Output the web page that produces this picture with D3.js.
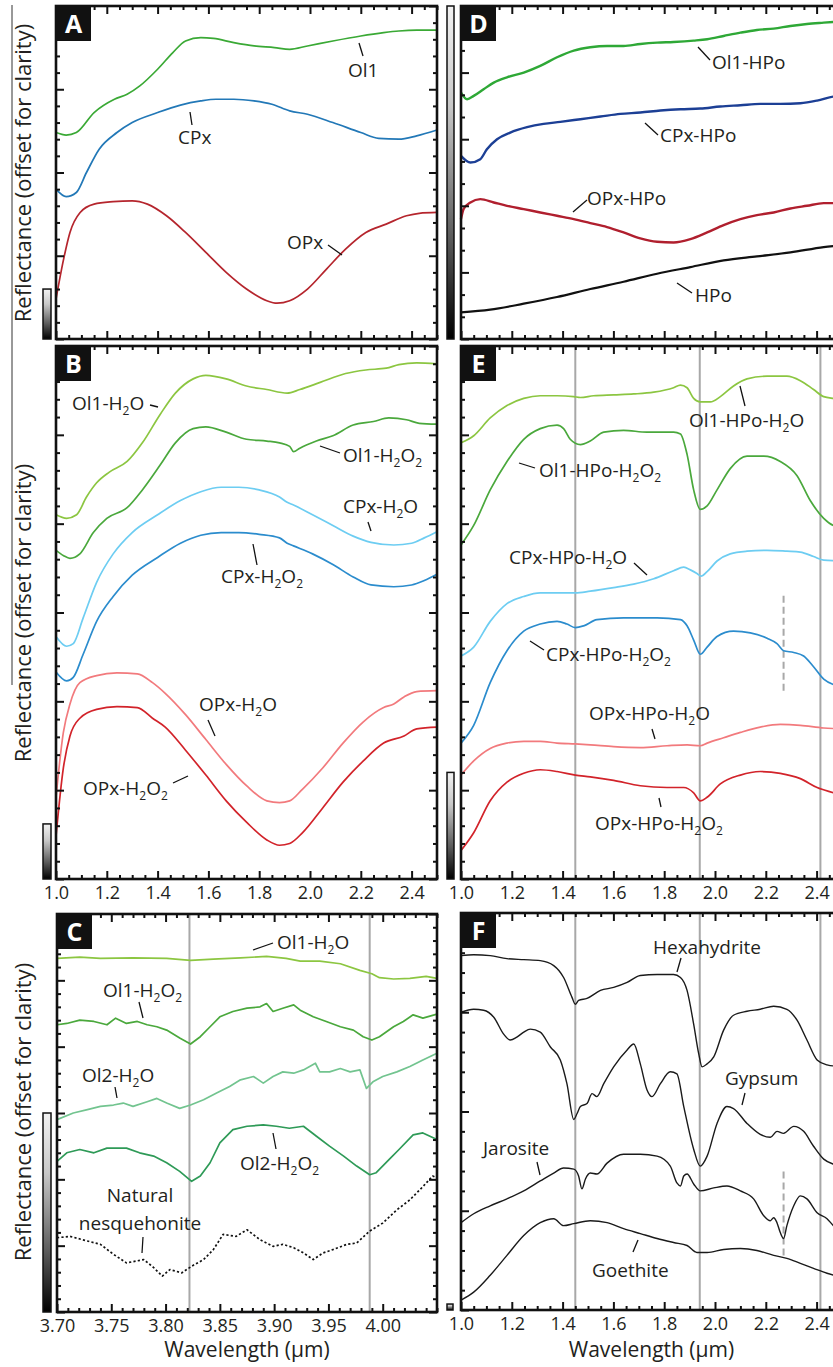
<!DOCTYPE html>
<html><head><meta charset="utf-8">
<script src="https://cdn.jsdelivr.net/npm/d3@7"></script>
<style>body{margin:0;background:#fff} svg text{font-family:'Open Sans',sans-serif;fill:#231f20}</style>
</head><body><svg id="c" width="833" height="1367"></svg>
<script>
// ---------------- tick values / labels ----------------
const nirTicks = [1.0, 1.2, 1.4, 1.6, 1.8, 2.0, 2.2, 2.4];
const nirTickLabels = ["1.0", "1.2", "1.4", "1.6", "1.8", "2.0", "2.2", "2.4"];
const lwTicks = [3.70, 3.75, 3.80, 3.85, 3.90, 3.95, 4.00];
const lwTickLabels = ["3.70", "3.75", "3.80", "3.85", "3.90", "3.95", "4.00"];
const bandsNIR = [1.45, 1.94, 2.415];
const bandsLW = [3.822, 3.988];
const dashedBand = 2.27;

// ---------------- Panel A ----------------
const A_Ol1 = [[1.00,0.248],[1.04,0.245],[1.08,0.248],[1.15,0.272],[1.23,0.288],[1.28,0.294],[1.33,0.304],[1.40,0.324],[1.46,0.344],[1.51,0.358],[1.57,0.362],[1.62,0.361],[1.70,0.356],[1.78,0.352],[1.86,0.350],[1.92,0.348],[1.99,0.352],[2.09,0.358],[2.20,0.364],[2.29,0.368],[2.35,0.370],[2.42,0.371],[2.50,0.371]];
const A_CPx = [[1.00,0.180],[1.04,0.171],[1.08,0.176],[1.12,0.200],[1.17,0.228],[1.24,0.248],[1.30,0.260],[1.40,0.272],[1.49,0.281],[1.57,0.286],[1.63,0.288],[1.70,0.288],[1.78,0.286],[1.85,0.282],[1.92,0.274],[1.99,0.270],[2.09,0.260],[2.20,0.248],[2.27,0.241],[2.35,0.240],[2.42,0.244],[2.50,0.251]];
const A_OPx = [[1.00,0.048],[1.03,0.096],[1.055,0.128],[1.095,0.152],[1.15,0.162],[1.225,0.165],[1.30,0.166],[1.36,0.162],[1.435,0.148],[1.51,0.128],[1.59,0.104],[1.67,0.080],[1.75,0.060],[1.83,0.046],[1.87,0.043],[1.92,0.046],[1.99,0.060],[2.065,0.084],[2.14,0.108],[2.22,0.128],[2.30,0.138],[2.38,0.148],[2.43,0.151],[2.50,0.152]];

// ---------------- Panel B ----------------
const B_Ol1_H2O = [[1.00,0.410],[1.042,0.406],[1.081,0.410],[1.12,0.430],[1.16,0.446],[1.21,0.458],[1.28,0.470],[1.34,0.491],[1.41,0.523],[1.47,0.547],[1.54,0.563],[1.59,0.567],[1.67,0.563],[1.75,0.555],[1.83,0.551],[1.91,0.547],[1.96,0.551],[2.04,0.559],[2.14,0.569],[2.22,0.573],[2.30,0.575],[2.35,0.579],[2.42,0.581],[2.50,0.580]];
const B_Ol1_H2O2 = [[1.00,0.370],[1.03,0.364],[1.055,0.361],[1.094,0.366],[1.147,0.390],[1.20,0.406],[1.28,0.418],[1.34,0.438],[1.41,0.466],[1.47,0.491],[1.54,0.507],[1.59,0.509],[1.67,0.503],[1.75,0.495],[1.83,0.493],[1.88,0.491],[1.92,0.487],[1.935,0.481],[1.96,0.485],[2.025,0.493],[2.09,0.499],[2.17,0.511],[2.25,0.515],[2.31,0.519],[2.38,0.517],[2.43,0.513],[2.50,0.512]];
const B_CPx_H2O = [[1.00,0.273],[1.042,0.262],[1.068,0.265],[1.107,0.294],[1.16,0.334],[1.225,0.366],[1.30,0.390],[1.40,0.410],[1.49,0.426],[1.57,0.436],[1.65,0.441],[1.72,0.441],[1.80,0.438],[1.88,0.430],[1.91,0.424],[1.935,0.421],[2.01,0.410],[2.09,0.398],[2.17,0.386],[2.24,0.379],[2.33,0.376],[2.40,0.378],[2.45,0.384],[2.50,0.391]];
const B_CPx_H2O2 = [[1.00,0.233],[1.042,0.223],[1.068,0.227],[1.107,0.253],[1.16,0.290],[1.225,0.318],[1.30,0.342],[1.40,0.362],[1.49,0.378],[1.57,0.387],[1.65,0.390],[1.72,0.390],[1.80,0.388],[1.88,0.384],[1.91,0.378],[1.935,0.375],[2.01,0.366],[2.09,0.354],[2.17,0.340],[2.24,0.331],[2.33,0.329],[2.40,0.331],[2.45,0.336],[2.50,0.343]];
const B_OPx_H2O = [[1.00,0.092],[1.029,0.165],[1.055,0.197],[1.094,0.221],[1.16,0.229],[1.24,0.232],[1.32,0.231],[1.38,0.221],[1.43,0.209],[1.51,0.185],[1.59,0.157],[1.67,0.129],[1.75,0.105],[1.83,0.088],[1.88,0.086],[1.92,0.088],[1.97,0.101],[2.05,0.125],[2.13,0.153],[2.21,0.177],[2.29,0.193],[2.33,0.197],[2.37,0.205],[2.42,0.211],[2.50,0.212]];
const B_OPx_H2O2 = [[1.00,0.048],[1.029,0.125],[1.055,0.161],[1.094,0.181],[1.16,0.191],[1.24,0.194],[1.32,0.193],[1.38,0.181],[1.43,0.171],[1.51,0.145],[1.59,0.117],[1.67,0.088],[1.75,0.064],[1.83,0.044],[1.88,0.038],[1.92,0.040],[1.97,0.052],[2.05,0.080],[2.13,0.109],[2.21,0.133],[2.29,0.153],[2.37,0.161],[2.42,0.169],[2.50,0.171]];

// ---------------- Panel C ----------------
const C_Ol1_H2O = [[3.700,0.533],[3.721,0.535],[3.740,0.533],[3.770,0.534],[3.801,0.533],[3.823,0.530],[3.844,0.532],[3.869,0.534],[3.893,0.536],[3.911,0.533],[3.924,0.529],[3.942,0.529],[3.961,0.525],[3.979,0.515],[3.990,0.510],[3.997,0.504],[4.010,0.502],[4.025,0.503],[4.040,0.506],[4.050,0.503]];
const C_Ol1_H2O2 = [[3.700,0.433],[3.709,0.435],[3.721,0.440],[3.734,0.438],[3.746,0.433],[3.754,0.443],[3.764,0.435],[3.774,0.438],[3.783,0.433],[3.792,0.430],[3.801,0.425],[3.813,0.413],[3.823,0.404],[3.832,0.415],[3.841,0.430],[3.850,0.445],[3.862,0.453],[3.875,0.458],[3.887,0.460],[3.893,0.465],[3.899,0.453],[3.908,0.458],[3.918,0.463],[3.924,0.455],[3.936,0.445],[3.948,0.438],[3.961,0.430],[3.973,0.425],[3.982,0.415],[3.990,0.410],[3.997,0.415],[4.010,0.430],[4.019,0.438],[4.028,0.448],[4.037,0.443],[4.050,0.449]];
const C_Ol2_H2O = [[3.700,0.290],[3.715,0.300],[3.728,0.305],[3.740,0.310],[3.752,0.312],[3.761,0.315],[3.770,0.310],[3.783,0.317],[3.792,0.322],[3.801,0.315],[3.813,0.307],[3.823,0.312],[3.835,0.320],[3.847,0.330],[3.859,0.340],[3.869,0.350],[3.881,0.355],[3.890,0.345],[3.899,0.355],[3.908,0.362],[3.918,0.360],[3.927,0.365],[3.938,0.375],[3.942,0.362],[3.951,0.362],[3.961,0.367],[3.970,0.362],[3.979,0.365],[3.985,0.337],[3.991,0.347],[4.000,0.355],[4.013,0.362],[4.025,0.370],[4.037,0.380],[4.050,0.390]];
const C_Ol2_H2O2 = [[3.700,0.227],[3.709,0.240],[3.721,0.245],[3.734,0.240],[3.746,0.247],[3.764,0.247],[3.776,0.240],[3.789,0.235],[3.801,0.225],[3.813,0.212],[3.824,0.197],[3.832,0.205],[3.841,0.225],[3.850,0.255],[3.862,0.275],[3.875,0.280],[3.890,0.282],[3.902,0.280],[3.914,0.277],[3.927,0.280],[3.939,0.265],[3.951,0.250],[3.964,0.235],[3.976,0.220],[3.988,0.207],[3.994,0.210],[4.006,0.230],[4.015,0.245],[4.028,0.267],[4.037,0.270],[4.050,0.260]];
const C_Nesq = [[3.700,0.112],[3.712,0.114],[3.728,0.107],[3.740,0.102],[3.752,0.087],[3.764,0.074],[3.780,0.079],[3.789,0.067],[3.797,0.054],[3.804,0.064],[3.815,0.059],[3.824,0.069],[3.835,0.079],[3.844,0.094],[3.853,0.117],[3.865,0.114],[3.875,0.124],[3.887,0.109],[3.899,0.099],[3.908,0.102],[3.918,0.097],[3.927,0.089],[3.936,0.079],[3.945,0.089],[3.954,0.094],[3.967,0.102],[3.976,0.104],[3.988,0.122],[4.000,0.134],[4.013,0.154],[4.025,0.169],[4.037,0.189],[4.046,0.205],[4.050,0.202]];

// ---------------- Panel D ----------------
const D_Ol1_HPo = [[1.000,0.370],[1.024,0.360],[1.050,0.365],[1.089,0.375],[1.129,0.385],[1.181,0.393],[1.247,0.400],[1.312,0.410],[1.378,0.423],[1.444,0.433],[1.509,0.438],[1.575,0.440],[1.640,0.440],[1.706,0.443],[1.772,0.445],[1.837,0.446],[1.916,0.448],[1.969,0.450],[2.034,0.455],[2.100,0.460],[2.165,0.464],[2.231,0.466],[2.297,0.470],[2.362,0.473],[2.428,0.475],[2.500,0.477]];
const D_CPx_HPo = [[1.000,0.275],[1.037,0.265],[1.076,0.270],[1.102,0.285],[1.142,0.300],[1.194,0.310],[1.260,0.318],[1.325,0.323],[1.391,0.326],[1.470,0.330],[1.549,0.334],[1.627,0.338],[1.706,0.340],[1.785,0.343],[1.864,0.345],[1.942,0.346],[2.021,0.349],[2.100,0.351],[2.178,0.353],[2.257,0.353],[2.336,0.354],[2.402,0.358],[2.466,0.364],[2.500,0.366]];
const D_OPx_HPo = [[1.000,0.180],[1.010,0.195],[1.037,0.205],[1.076,0.210],[1.129,0.205],[1.181,0.200],[1.247,0.195],[1.312,0.190],[1.378,0.185],[1.444,0.180],[1.509,0.174],[1.575,0.168],[1.640,0.160],[1.706,0.151],[1.772,0.146],[1.837,0.145],[1.903,0.150],[1.969,0.160],[2.034,0.171],[2.100,0.180],[2.165,0.186],[2.231,0.190],[2.297,0.196],[2.362,0.200],[2.428,0.204],[2.500,0.204]];
const D_HPo = [[1.000,0.040],[1.115,0.044],[1.247,0.053],[1.378,0.063],[1.509,0.075],[1.640,0.086],[1.772,0.098],[1.903,0.108],[2.034,0.118],[2.165,0.124],[2.297,0.130],[2.428,0.138],[2.500,0.141]];

// ---------------- Panel E ----------------
const E_Ol1_H2O = [[1.000,0.491],[1.050,0.499],[1.115,0.519],[1.181,0.533],[1.247,0.541],[1.312,0.544],[1.378,0.544],[1.444,0.543],[1.470,0.542],[1.522,0.544],[1.601,0.545],[1.680,0.546],[1.759,0.548],[1.837,0.553],[1.864,0.556],[1.890,0.553],[1.916,0.541],[1.942,0.537],[1.982,0.537],[2.021,0.543],[2.073,0.555],[2.126,0.563],[2.205,0.566],[2.283,0.566],[2.336,0.561],[2.388,0.551],[2.428,0.543],[2.466,0.541],[2.500,0.540]];
const E_Ol1_H2O2 = [[1.000,0.376],[1.050,0.398],[1.115,0.438],[1.181,0.470],[1.247,0.495],[1.312,0.507],[1.378,0.511],[1.404,0.507],[1.430,0.495],[1.470,0.489],[1.509,0.493],[1.562,0.503],[1.640,0.505],[1.732,0.503],[1.837,0.503],[1.864,0.501],[1.890,0.478],[1.916,0.438],[1.942,0.416],[1.969,0.420],[2.008,0.438],[2.060,0.462],[2.126,0.476],[2.192,0.476],[2.257,0.470],[2.323,0.454],[2.375,0.426],[2.428,0.406],[2.466,0.398],[2.500,0.396]];
const E_CPx_H2O = [[1.000,0.251],[1.050,0.261],[1.115,0.290],[1.181,0.310],[1.247,0.318],[1.312,0.322],[1.378,0.322],[1.450,0.322],[1.509,0.324],[1.601,0.328],[1.680,0.332],[1.759,0.338],[1.837,0.347],[1.877,0.351],[1.903,0.348],[1.929,0.344],[1.945,0.341],[1.969,0.346],[2.008,0.358],[2.060,0.366],[2.126,0.369],[2.205,0.370],[2.283,0.369],[2.336,0.368],[2.388,0.363],[2.428,0.359],[2.500,0.358]];
const E_CPx_H2O2 = [[1.000,0.153],[1.050,0.173],[1.115,0.221],[1.181,0.257],[1.247,0.279],[1.312,0.287],[1.378,0.290],[1.417,0.287],[1.450,0.283],[1.483,0.285],[1.535,0.292],[1.640,0.294],[1.772,0.294],[1.864,0.292],[1.890,0.285],[1.916,0.269],[1.942,0.253],[1.969,0.261],[2.008,0.273],[2.073,0.279],[2.139,0.277],[2.205,0.271],[2.244,0.265],[2.270,0.257],[2.310,0.255],[2.349,0.251],[2.388,0.239],[2.428,0.225],[2.466,0.219],[2.500,0.217]];
const E_OPx_H2O = [[1.000,0.117],[1.050,0.133],[1.115,0.147],[1.181,0.153],[1.247,0.155],[1.312,0.155],[1.378,0.153],[1.450,0.152],[1.509,0.151],[1.601,0.149],[1.706,0.148],[1.811,0.150],[1.890,0.151],[1.942,0.150],[1.969,0.153],[2.034,0.159],[2.100,0.165],[2.178,0.171],[2.257,0.174],[2.336,0.173],[2.428,0.170],[2.500,0.169]];
const E_OPx_H2O2 = [[1.000,0.032],[1.050,0.052],[1.115,0.088],[1.181,0.109],[1.247,0.119],[1.312,0.123],[1.378,0.121],[1.450,0.117],[1.509,0.115],[1.601,0.111],[1.706,0.105],[1.811,0.103],[1.877,0.103],[1.916,0.097],[1.942,0.088],[1.969,0.092],[2.021,0.107],[2.100,0.117],[2.178,0.121],[2.257,0.119],[2.336,0.113],[2.402,0.103],[2.466,0.097],[2.500,0.094]];

// ---------------- Panel F ----------------
const F_Hexahydrite = [[1.000,0.357],[1.050,0.358],[1.115,0.357],[1.181,0.354],[1.247,0.353],[1.312,0.352],[1.365,0.347],[1.404,0.335],[1.437,0.315],[1.450,0.308],[1.463,0.312],[1.496,0.314],[1.549,0.322],[1.601,0.325],[1.654,0.330],[1.706,0.337],[1.772,0.338],[1.837,0.338],[1.864,0.335],[1.890,0.322],[1.916,0.288],[1.936,0.258],[1.949,0.245],[1.969,0.248],[1.995,0.255],[2.034,0.282],[2.073,0.297],[2.126,0.301],[2.178,0.303],[2.231,0.306],[2.283,0.303],[2.323,0.292],[2.362,0.272],[2.402,0.252],[2.441,0.247],[2.466,0.246],[2.500,0.246]];
const F_Gypsum = [[1.000,0.300],[1.050,0.303],[1.089,0.302],[1.129,0.295],[1.168,0.278],[1.194,0.272],[1.220,0.275],[1.247,0.280],[1.273,0.283],[1.312,0.280],[1.352,0.265],[1.391,0.252],[1.417,0.228],[1.444,0.192],[1.457,0.198],[1.470,0.205],[1.496,0.208],[1.516,0.218],[1.535,0.215],[1.562,0.228],[1.601,0.245],[1.654,0.262],[1.680,0.268],[1.706,0.248],[1.732,0.222],[1.752,0.215],[1.785,0.228],[1.824,0.240],[1.850,0.238],[1.877,0.205],[1.916,0.162],[1.942,0.145],[1.969,0.155],[2.008,0.188],[2.047,0.205],[2.073,0.203],[2.126,0.188],[2.178,0.177],[2.218,0.174],[2.244,0.180],[2.270,0.178],[2.310,0.185],[2.349,0.180],[2.388,0.165],[2.428,0.152],[2.466,0.147],[2.500,0.145]];
const F_Jarosite = [[1.000,0.088],[1.050,0.097],[1.115,0.105],[1.181,0.112],[1.247,0.120],[1.312,0.130],[1.365,0.138],[1.404,0.143],[1.444,0.142],[1.463,0.135],[1.476,0.122],[1.490,0.132],[1.509,0.138],[1.535,0.137],[1.575,0.148],[1.640,0.157],[1.706,0.157],[1.772,0.155],[1.824,0.145],[1.850,0.128],[1.864,0.125],[1.877,0.135],[1.890,0.137],[1.916,0.127],[1.942,0.120],[1.995,0.123],[2.047,0.125],[2.100,0.120],[2.152,0.112],[2.192,0.095],[2.218,0.090],[2.231,0.093],[2.244,0.088],[2.257,0.078],[2.270,0.072],[2.283,0.085],[2.310,0.105],[2.336,0.115],[2.362,0.112],[2.402,0.098],[2.441,0.092],[2.466,0.085],[2.500,0.078]];
const F_Goethite = [[1.000,0.010],[1.050,0.018],[1.115,0.035],[1.181,0.055],[1.247,0.075],[1.312,0.088],[1.365,0.092],[1.404,0.085],[1.444,0.087],[1.509,0.090],[1.575,0.088],[1.640,0.082],[1.706,0.077],[1.772,0.072],[1.837,0.068],[1.890,0.065],[1.929,0.058],[1.969,0.058],[2.034,0.061],[2.100,0.062],[2.165,0.060],[2.231,0.055],[2.283,0.052],[2.336,0.047],[2.388,0.042],[2.441,0.037],[2.500,0.033]];

// scale bar heights (reflectance units of each panel)
const scaleBars = {A:0.06, B:0.062, C:0.30, D:0.5, E:0.12, F:0.006};

// ---------------- layout ----------------
const panels = {
  A:{x:56,y:6,w:381,h:333,xd:[1,2.5],yd:[0,0.4],yMinor:0.02,kind:'nir',labels:false},
  B:{x:56,y:346,w:381,h:533,xd:[1,2.5],yd:[0,0.6],yMinor:0.02,kind:'nir',labels:true},
  C:{x:57,y:914,w:380,h:398,xd:[3.70,4.05],yd:[0,0.6],yMinor:0.02,kind:'lw',labels:true},
  D:{x:461,y:6,w:381,h:333,xd:[1,2.5],yd:[0,0.5],yMinor:0.1/3,kind:'nir',labels:false},
  E:{x:461,y:346,w:381,h:533,xd:[1,2.5],yd:[0,0.6],yMinor:0.02,kind:'nir',labels:true},
  F:{x:461,y:913,w:381,h:397,xd:[1,2.5],yd:[0,0.4],yMinor:0.02,kind:'nir',labels:true}
};

const series = [
  {p:'A',d:A_Ol1,c:'#3aa935'},{p:'A',d:A_CPx,c:'#2278b7'},{p:'A',d:A_OPx,c:'#b5252d'},
  {p:'B',d:B_Ol1_H2O,c:'#8cc641'},{p:'B',d:B_Ol1_H2O2,c:'#4aa83c'},{p:'B',d:B_CPx_H2O,c:'#6dcdf2'},{p:'B',d:B_CPx_H2O2,c:'#2b8ccd'},{p:'B',d:B_OPx_H2O,c:'#f27a7d'},{p:'B',d:B_OPx_H2O2,c:'#d2232a'},
  {p:'C',d:C_Ol1_H2O,c:'#8cc641',lin:true},{p:'C',d:C_Ol1_H2O2,c:'#4aa83c',lin:true},{p:'C',d:C_Ol2_H2O,c:'#72c48f',lin:true},{p:'C',d:C_Ol2_H2O2,c:'#2e9a57',lin:true},{p:'C',d:C_Nesq,c:'#111',lin:true,dash:'2.2,2.2'},
  {p:'D',d:D_Ol1_HPo,c:'#2ea836',w:2.4},{p:'D',d:D_CPx_HPo,c:'#1c3f95',w:2.4},{p:'D',d:D_OPx_HPo,c:'#b01f2e',w:2.4},{p:'D',d:D_HPo,c:'#111',w:2.2},
  {p:'E',d:E_Ol1_H2O,c:'#8cc641'},{p:'E',d:E_Ol1_H2O2,c:'#4aa83c'},{p:'E',d:E_CPx_H2O,c:'#6dcdf2'},{p:'E',d:E_CPx_H2O2,c:'#2b8ccd'},{p:'E',d:E_OPx_H2O,c:'#f27a7d'},{p:'E',d:E_OPx_H2O2,c:'#d2232a'},
  {p:'F',d:F_Hexahydrite,c:'#1a1a1a',w:1.4},{p:'F',d:F_Gypsum,c:'#1a1a1a',w:1.4},{p:'F',d:F_Jarosite,c:'#1a1a1a',w:1.4},{p:'F',d:F_Goethite,c:'#1a1a1a',w:1.4}
];

// annotation layout: [text, x, y, anchor, leader x1,y1,x2,y2]
const annotations = [
  ['Ol1',348,70,'start',359,43,363,56],
  ['CPx',178,137,'start',190,112,192,125],
  ['OPx',287,242,'start',328,245,342,255],
  ['Ol1-H_2O',72,403,'start',150,405,158,407],
  ['Ol1-H_2O_2',343,455,'start',320,446,340,453],
  ['CPx-H_2O',343,506,'start',368,522,371,531],
  ['CPx-H_2O_2',221,576,'start',253,544,257,565],
  ['OPx-H_2O',199,704,'start',208,720,215,736],
  ['OPx-H_2O_2',83,788,'start',173,783,188,776],
  ['Ol1-H_2O',277,942,'start',253,950,273,943],
  ['Ol1-H_2O_2',103,990,'start',139,1002,143,1018],
  ['Ol2-H_2O',82,1075,'start',115,1087,117,1098],
  ['Ol2-H_2O_2',240,1163,'start',273,1133,276,1149],
  ['Natural',140,1195,'middle'],
  ['nesquehonite',140,1223,'middle',143,1237,142,1253],
  ['Ol1-HPo',712,62,'start',698,47,710,60],
  ['CPx-HPo',660,135,'start',645,123,658,135],
  ['OPx-HPo',587,198,'start',573,212,587,200],
  ['HPo',695,295,'start',677,283,692,293],
  ['Ol1-HPo-H_2O',689,420,'start',740,386,745,406],
  ['Ol1-HPo-H_2O_2',539,470,'start',519,463,535,468],
  ['CPx-HPo-H_2O',509,557,'start',634,563,647,575],
  ['CPx-HPo-H_2O_2',546,654,'start',530,641,544,650],
  ['OPx-HPo-H_2O',589,713,'start',652,729,655,739],
  ['OPx-HPo-H_2O_2',595,823,'start',659,798,661,807],
  ['Hexahydrite',653,947,'start',677,972,681,958],
  ['Gypsum',725,1078,'start',742,1105,745,1093],
  ['Jarosite',483,1148,'start',537,1162,540,1175],
  ['Goethite',592,1270,'start',633,1252,638,1240]
];

const svg = d3.select('#c');
const defs = svg.append('defs');
const gr = defs.append('linearGradient').attr('id','sb').attr('x1',0).attr('y1',0).attr('x2',0).attr('y2',1);
[[0,'#f2f2f2'],[0.3,'#c8c8c8'],[0.7,'#5a5a5a'],[1,'#000']].forEach(s=>gr.append('stop').attr('offset',s[0]).attr('stop-color',s[1]));

// scales
const sc = {};
Object.entries(panels).forEach(([k,p])=>{
  sc[k] = {x:d3.scaleLinear().domain(p.xd).range([p.x,p.x+p.w]), y:d3.scaleLinear().domain(p.yd).range([p.y+p.h,p.y])};
});

// left thin rule
svg.append('line').attr('x1',12).attr('x2',12).attr('y1',5).attr('y2',685).attr('stroke','#333').attr('stroke-width',1);

// gray reference lines
['E','F'].forEach(k=>{
  const p=panels[k], s=sc[k];
  svg.append('g').selectAll('line').data(bandsNIR).join('line')
    .attr('x1',d=>s.x(d)).attr('x2',d=>s.x(d)).attr('y1',p.y).attr('y2',p.y+p.h)
    .attr('stroke','#a8a8a8').attr('stroke-width',2);
});
svg.append('g').selectAll('line').data(bandsLW).join('line')
  .attr('x1',d=>sc.C.x(d)).attr('x2',d=>sc.C.x(d)).attr('y1',panels.C.y).attr('y2',panels.C.y+panels.C.h)
  .attr('stroke','#a8a8a8').attr('stroke-width',2);
// dashed markers
const dashed = [{p:'E',v:[0.212,0.322]},{p:'F',v:[0.055,0.141]}];
dashed.forEach(o=>{
  svg.append('line').attr('x1',sc[o.p].x(dashedBand)).attr('x2',sc[o.p].x(dashedBand))
   .attr('y1',sc[o.p].y(o.v[0])).attr('y2',sc[o.p].y(o.v[1]))
   .attr('stroke','#a8a8a8').attr('stroke-width',2).attr('stroke-dasharray','7,4');
});

// curves
series.forEach(s=>{
  const S=sc[s.p];
  const line=d3.line().x(d=>S.x(d[0])).y(d=>S.y(d[1])).curve(s.lin?d3.curveLinear:d3.curveMonotoneX);
  svg.append('path').attr('d',line(s.d)).attr('fill','none').attr('stroke',s.c)
    .attr('stroke-width',s.w||1.7).attr('stroke-dasharray',s.dash||null).attr('stroke-linejoin','round');
});

// frames & ticks
Object.entries(panels).forEach(([k,p])=>{
  const s=sc[k];
  const g=svg.append('g');
  const xMaj = p.kind==='nir'?nirTicks:lwTicks;
  const xLab = p.kind==='nir'?nirTickLabels:lwTickLabels;
  const xMinStep = p.kind==='nir'?0.05:0.01;
  const xMin = d3.range(p.xd[0], p.xd[1]+1e-9, xMinStep).filter(v=>!xMaj.some(m=>Math.abs(m-v)<1e-6));
  g.append('g').attr('transform',`translate(0,${p.y+p.h})`)
    .call(d3.axisBottom(s.x).tickValues(xMaj).tickSizeInner(-8).tickSizeOuter(0).tickPadding(7)
      .tickFormat((d,i)=>p.labels?xLab[i]:''));
  g.append('g').attr('transform',`translate(0,${p.y+p.h})`)
    .call(d3.axisBottom(s.x).tickValues(xMin).tickSizeInner(-4).tickSizeOuter(0).tickFormat(''));
  g.append('g').attr('transform',`translate(0,${p.y})`)
    .call(d3.axisTop(s.x).tickValues(xMaj).tickSizeInner(-8).tickSizeOuter(0).tickFormat(''));
  g.append('g').attr('transform',`translate(0,${p.y})`)
    .call(d3.axisTop(s.x).tickValues(xMin).tickSizeInner(-4).tickSizeOuter(0).tickFormat(''));
  const yMaj = d3.range(p.yd[0], p.yd[1]+1e-9, 0.1);
  const yMin = d3.range(p.yd[0], p.yd[1]+1e-9, p.yMinor).filter(v=>!yMaj.some(m=>Math.abs(m-v)<1e-6));
  [[d3.axisLeft,p.x],[d3.axisRight,p.x+p.w]].forEach(([ax,xx])=>{
    g.append('g').attr('transform',`translate(${xx},0)`).call(ax(s.y).tickValues(yMaj).tickSizeInner(-8).tickSizeOuter(0).tickFormat(''));
    g.append('g').attr('transform',`translate(${xx},0)`).call(ax(s.y).tickValues(yMin).tickSizeInner(-4).tickSizeOuter(0).tickFormat(''));
  });
  g.selectAll('.domain').remove();
  g.selectAll('.tick line').attr('stroke','#111').attr('stroke-width',2);
  g.selectAll('.tick text').attr('font-size',18).attr('font-family',"'Open Sans',sans-serif").attr('fill','#231f20');
  g.append('rect').attr('x',p.x).attr('y',p.y).attr('width',p.w).attr('height',p.h)
    .attr('fill','none').attr('stroke','#111').attr('stroke-width',2.6);
  g.append('rect').attr('x',p.x).attr('y',p.y).attr('width',35).attr('height',35).attr('fill','#111');
  g.append('text').attr('x',p.x+17.5).attr('y',p.y+18).attr('dy','0.36em').attr('text-anchor','middle')
    .attr('font-size',25).attr('font-weight',700).style('fill','#fff').text(k);
  const bh = s.y(0)-s.y(scaleBars[k]);
  const bx = p.x < 100 ? 43 : 447;
  const bw = k==='F'?6:(p.x<100?8:7);
  svg.append('rect').attr('x',bx).attr('y',p.y+p.h-bh).attr('width',bw).attr('height',bh)
    .attr('fill','url(#sb)').attr('stroke','#111').attr('stroke-width',1.5);
});

// axis titles
[['A',173],['B',613],['C',1112]].forEach(([k,cy])=>{
  svg.append('text').attr('transform',`translate(23,${cy}) rotate(-90)`).attr('text-anchor','middle')
    .attr('dy','0.35em').attr('font-size',22).text('Reflectance (offset for clarity)');
});
[panels.C, panels.F].forEach(p=>{
  svg.append('text').attr('x',p.x+p.w/2).attr('y',1350).attr('dy','0.35em').attr('text-anchor','middle')
    .attr('font-size',21).text('Wavelength (\u03bcm)');
});

// annotations
function addLabel(str,x,y,anchor){
  const t=svg.append('text').attr('x',x).attr('y',y).attr('dy','0.35em').attr('text-anchor',anchor).attr('font-size',19);
  const parts=str.split(/(_\d)/).filter(s=>s.length);
  let sub=false;
  parts.forEach(pt=>{
    if(pt[0]==='_'){t.append('tspan').attr('font-size',12).attr('dy',5).text(pt.slice(1));sub=true;}
    else{const ts=t.append('tspan').text(pt); if(sub){ts.attr('dy',-5);sub=false;}}
  });
}
annotations.forEach(a=>{
  addLabel(a[0],a[1],a[2],a[3]);
  if(a.length>4) svg.append('line').attr('x1',a[4]).attr('y1',a[5]).attr('x2',a[6]).attr('y2',a[7])
     .attr('stroke','#111').attr('stroke-width',1.3);
});
</script></body></html>
